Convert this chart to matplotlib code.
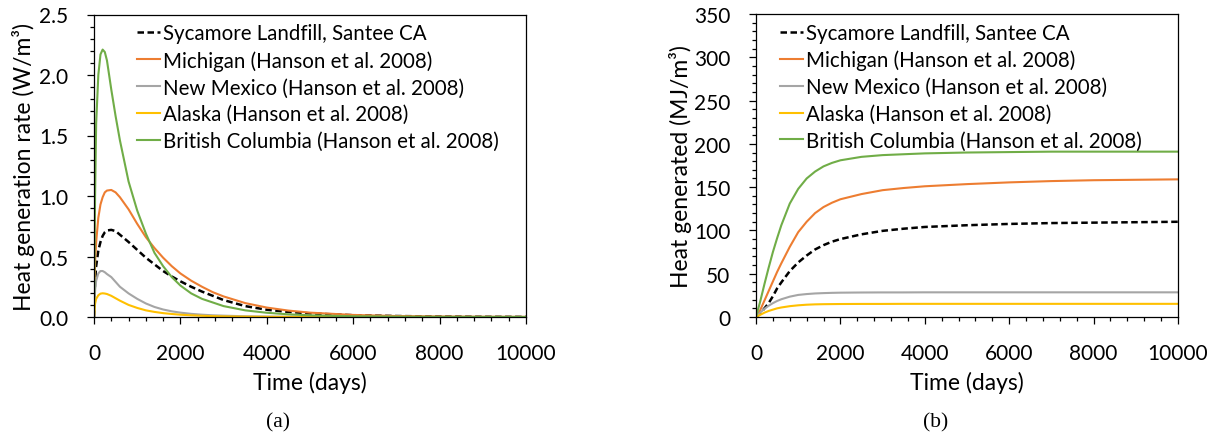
import matplotlib
matplotlib.use("Agg")
import matplotlib.pyplot as plt
from matplotlib.ticker import MultipleLocator

plt.rcParams['font.family'] = ['Lato', 'DejaVu Sans']

# ---- data ----
series_names = [
    "Sycamore Landfill, Santee CA",
    "Michigan (Hanson et al. 2008)",
    "New Mexico (Hanson et al. 2008)",
    "Alaska (Hanson et al. 2008)",
    "British Columbia (Hanson et al. 2008)",
]

# (a) heat generation rate, W/m3
t_rate = [0, 25, 50, 100, 150, 200, 250, 300, 400, 500, 600, 800, 1000, 1200,
          1400, 1600, 1800, 2000, 2250, 2500, 2750, 3000, 3500, 4000, 4500,
          5000, 6000, 7000, 8000, 9000, 10000]
rate_sycamore = [0, 0.30, 0.42, 0.55, 0.62, 0.67, 0.70, 0.715, 0.72, 0.71, 0.68,
                 0.62, 0.555, 0.49, 0.435, 0.38, 0.335, 0.295, 0.25, 0.21, 0.175,
                 0.14, 0.09, 0.06, 0.042, 0.03, 0.015, 0.008, 0.004, 0.002, 0.001]
rate_michigan = [0, 0.45, 0.62, 0.82, 0.93, 0.99, 1.03, 1.045, 1.05, 1.03, 0.99,
                 0.89, 0.77, 0.66, 0.57, 0.49, 0.42, 0.36, 0.30, 0.25, 0.205,
                 0.17, 0.115, 0.078, 0.053, 0.036, 0.017, 0.008, 0.004, 0.002, 0.001]
rate_newmexico = [0, 0.22, 0.30, 0.36, 0.38, 0.38, 0.37, 0.355, 0.33, 0.29, 0.25,
                  0.195, 0.15, 0.112, 0.083, 0.062, 0.047, 0.036, 0.026, 0.019,
                  0.014, 0.011, 0.006, 0.0035, 0.002, 0.001, 0.0005, 0.0002, 0.0001,
                  0.0, 0.0]
rate_alaska = [0, 0.11, 0.15, 0.18, 0.193, 0.196, 0.194, 0.19, 0.175, 0.155, 0.135,
               0.10, 0.075, 0.055, 0.042, 0.032, 0.025, 0.019, 0.014, 0.010, 0.007,
               0.005, 0.003, 0.0015, 0.001, 0.0005, 0.0002, 0.0001, 0.0, 0.0, 0.0]
rate_bc = [0, 1.0, 1.6, 2.0, 2.17, 2.21, 2.19, 2.12, 1.88, 1.66, 1.46, 1.12, 0.88,
           0.69, 0.53, 0.42, 0.33, 0.26, 0.195, 0.15, 0.12, 0.09, 0.055, 0.035,
           0.022, 0.014, 0.006, 0.003, 0.001, 0.0005, 0.0002]

# (b) cumulative heat generated, MJ/m3
t_cum = [0, 100, 200, 300, 400, 500, 600, 800, 1000, 1200, 1400, 1600, 1800, 2000,
         2500, 3000, 3500, 4000, 5000, 6000, 7000, 8000, 9000, 10000]
cum_sycamore = [0, 4, 10, 16, 24, 33, 40, 53, 63, 71, 78, 83, 87, 90, 95.5, 99.5,
                102, 104, 106, 107.5, 108.5, 109, 109.5, 110]
cum_michigan = [0, 8, 19, 30, 41, 52, 62, 81, 98, 110, 120, 127, 132, 136, 142,
                146.5, 149, 151, 153.5, 155.5, 157, 158, 158.5, 159]
cum_newmexico = [0, 5, 9.5, 13, 16, 18.5, 20.5, 23.5, 25.5, 26.5, 27.2, 27.6, 27.9,
                 28.1, 28.3, 28.4, 28.4, 28.5, 28.5, 28.5, 28.5, 28.5, 28.5, 28.5]
cum_alaska = [0, 2.5, 5, 7, 8.5, 10, 11, 12.5, 13.5, 14.2, 14.6, 14.8, 14.9, 15,
              15.1, 15.1, 15.2, 15.2, 15.2, 15.2, 15.2, 15.2, 15.2, 15.2]
cum_bc = [0, 18, 38, 57, 75, 91, 106, 131, 148, 160, 168, 174, 178, 181, 185, 187,
          188, 189, 190, 190.5, 191, 191, 191, 191]

colors = ['black', '#ED7D31', '#A5A5A5', '#FFC000', '#70AD47']

fig = plt.figure(figsize=(12.16, 4.35), dpi=100)
ax1 = fig.add_axes([94 / 1216, 117 / 435, 432 / 1216, 302.5 / 435])
ax2 = fig.add_axes([756 / 1216, 117 / 435, 422 / 1216, 303 / 435])


def draw(ax, t, curves, leg_x):
    for ys, name, c in zip(curves, series_names, colors):
        if c == 'black':
            ax.plot(t, ys, color=c, lw=1.8, dashes=(2.6, 1.4), label=name)
        else:
            ax.plot(t, ys, color=c, lw=1.5, label=name)
    ax.set_xlim(0, 10000)
    ax.xaxis.set_major_locator(MultipleLocator(2000))
    ax.xaxis.set_minor_locator(MultipleLocator(400))
    ax.tick_params(which='major', direction='out', length=5, width=0.9,
                   labelsize=15, pad=13.5)
    ax.tick_params(which='minor', direction='out', length=3.2, width=0.9)
    for s in ax.spines.values():
        s.set_linewidth(0.9)
    ax.set_xlabel("Time (days)", fontsize=16.5, va='center')
    ax.xaxis.set_label_coords(0.5, -0.215)
    ax.legend(loc='upper left', bbox_to_anchor=(leg_x, 0.971), frameon=False,
              fontsize=14.8, borderpad=0, borderaxespad=0, handlelength=1.1,
              handletextpad=0.15, labelspacing=0.33)


draw(ax1, t_rate, [rate_sycamore, rate_michigan, rate_newmexico, rate_alaska, rate_bc],
     0.0995)
ax1.set_ylim(0, 2.5)
ax1.yaxis.set_major_locator(MultipleLocator(0.5))
ax1.yaxis.set_minor_locator(MultipleLocator(0.1))
ax1.yaxis.set_major_formatter(matplotlib.ticker.FormatStrFormatter('%.1f'))
ax1.set_ylabel("Heat generation rate (W/m³)", fontsize=16.5, va='center')
ax1.yaxis.set_label_coords(-0.164, 0.5)

draw(ax2, t_cum, [cum_sycamore, cum_michigan, cum_newmexico, cum_alaska, cum_bc],
     0.058)
ax2.set_ylim(0, 350)
ax2.yaxis.set_major_locator(MultipleLocator(50))
ax2.yaxis.set_minor_locator(MultipleLocator(10))
ax2.set_ylabel("Heat generated (MJ/m³)", fontsize=16.5, va='center')
ax2.yaxis.set_label_coords(-0.18, 0.5)

fig.text(278 / 1216, 1 - 423 / 435, "(a)", ha='center', va='center',
         fontsize=15.5, family='Liberation Serif')
fig.text(936 / 1216, 1 - 423 / 435, "(b)", ha='center', va='center',
         fontsize=15.5, family='Liberation Serif')

fig.savefig("out.png", dpi=100)
